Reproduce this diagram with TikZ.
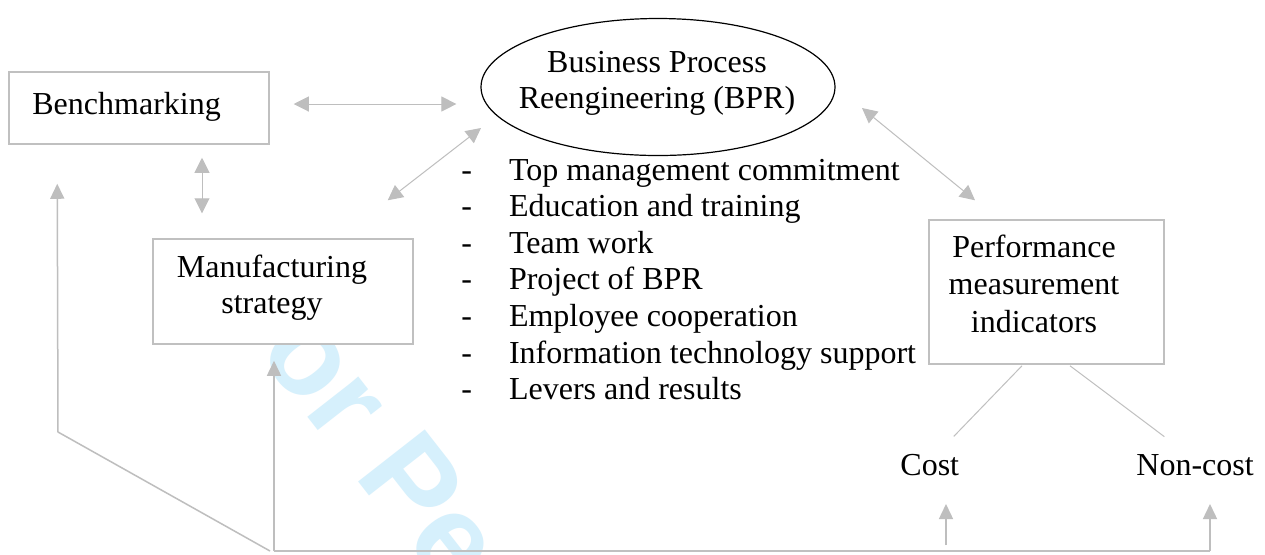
\documentclass[tikz,border=0pt]{standalone}
\usepackage{fontspec}
\setmainfont{Liberation Serif}
\newfontfamily\wmfont{Liberation Sans}
\usetikzlibrary{arrows.meta,shapes.geometric,calc}
\definecolor{boxgray}{RGB}{192,192,192}
\definecolor{arrgray}{RGB}{190,190,190}
\definecolor{wmblue}{RGB}{214,240,252}
\begin{document}
\begin{tikzpicture}[x=0.5pt,y=-0.5pt,
  txt/.style={inner sep=0pt,font=\fontsize{16}{18.3}\selectfont},
  box/.style={draw=boxgray,line width=0.75pt,fill=white,rectangle,inner sep=0pt},
  biarr/.style={draw=arrgray,line width=0.5pt,{Triangle[length=7.5pt,width=7.5pt]}-{Triangle[length=7.5pt,width=7.5pt]}},
  uparr/.style={draw=arrgray,line width=0.75pt,-{Triangle[length=7.5pt,width=7pt]}},
  fb/.style={draw=boxgray,line width=0.75pt},
  thinline/.style={draw=boxgray,line width=0.5pt}]
\useasboundingbox (0,0) rectangle (1265,554);
\fill[white] (0,0) rectangle (1265,554);
\begin{scope}
\clip (0,0) rectangle (1265,554);
\node[anchor=base west,rotate=-52,inner sep=0pt,text=wmblue,font=\wmfont\bfseries\fontsize{61.5}{61.5}\selectfont] (wm) at (210,292) {For Peer Review};
\end{scope}

% boxes
\node[box,minimum width=130pt,minimum height=36pt] (bench) at (139,108) {};
\node[box,minimum width=130pt,minimum height=52.5pt] (mfg) at (283,291.5) {};
\node[box,minimum width=117.5pt,minimum height=72pt] (perf) at (1046.5,292) {};
\node[draw=black,ellipse,line width=0.6pt,minimum width=177pt,minimum height=68.5pt,inner sep=0pt] (bpr) at (658,87) {};

% texts
\node[txt,anchor=base west] (benchT) at (32,114) {Benchmarking};
\node[txt,anchor=base] (mfgT) at (272,277) {\begin{tabular}[t]{@{}c@{}}Manufacturing\\strategy\end{tabular}};
\node[txt,anchor=base] (bprT) at (657,72) {\begin{tabular}[t]{@{}c@{}}Business Process\\Reengineering (BPR)\end{tabular}};
\node[txt,anchor=base,font=\fontsize{16}{18.75}\selectfont] (perfT) at (1034,257) {\begin{tabular}[t]{@{}c@{}}Performance\\measurement\\indicators\end{tabular}};
\node[txt,anchor=base west] (list) at (461,180) {\begin{tabular}[t]{@{}l@{\hspace{18.5pt}}l@{}}
-&Top management commitment\\
-&Education and training\\
-&Team work\\
-&Project of BPR\\
-&Employee cooperation\\
-&Information technology support\\
-&Levers and results
\end{tabular}};
\node[txt,anchor=base west] (cost) at (900,475) {Cost};
\node[txt,anchor=base west] (noncost) at (1136,475) {Non-cost};

% double arrows
\draw[biarr] ($(bench.east)+(24,-4)$) -- ($(bpr.west)+(-24,17)$);
\draw[biarr] ($(bench.south)+(63,13)$) -- ($(mfg.north)+(-81,-25)$);
\draw[biarr] ($(mfg.north east)+(-26,-38)$) -- ($(bpr.center)+(-177,41)$);
\draw[biarr] ($(bpr.center)+(204,21)$) -- ($(perf.north)+(-71.5,-19)$);

% performance branches
\draw[thinline] ($(perf.south)+(-24.5,1)$) -- ($(cost.north)+(24,-17)$);
\draw[thinline] ($(perf.south)+(23.5,1)$) -- ($(noncost.north)+(-30.7,-17)$);

% feedback lines
\coordinate (fbL) at (58,432);
\coordinate (fbM) at (270,551);
\coordinate (fbS) at (274,551);
\coordinate (fbE) at (1210,551);
\coordinate (fbC) at (946,545);
\draw[uparr] (fbM) -- (fbL) -- ($(bench.south west)+(49,39)$);
\draw[uparr] (fbS) -- ($(mfg.south)+(-9,16)$);
\draw[fb] (fbS) -- (fbE);
\draw[uparr] (fbE) -- ++(0,-47);
\draw[uparr] (fbC) -- ++(0,-41);
\end{tikzpicture}
\end{document}
